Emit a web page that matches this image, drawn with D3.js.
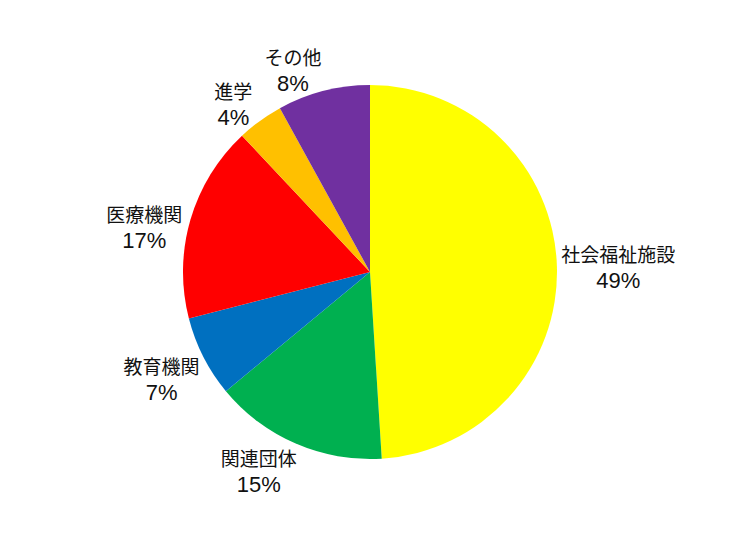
<!DOCTYPE html>
<html>
<head>
<meta charset="UTF-8">
<script src="https://cdn.jsdelivr.net/npm/d3@7/dist/d3.min.js"></script>
<style>
body { margin: 0; background: #fff; }
text { font-family: "Liberation Sans", "Noto Sans CJK JP", sans-serif; fill: #111; }
</style>
</head>
<body>
<script>
var categories = ["社会福祉施設", "関連団体", "教育機関", "医療機関", "進学", "その他"];
var values = [49, 15, 7, 17, 4, 8];
var colors = ["#ffff00", "#00b050", "#0070c0", "#ff0000", "#ffc000", "#7030a0"];

var width = 740, height = 555;
var cx = 370, cy = 272, radius = 187;

// small hand nudges for the label boxes (best-fit placement)
var labelNudge = [[-6, 2], [-18, -3], [1, 7], [0, 16], [-10, 10], [-21, 11]];

var svg = d3.select("body").append("svg")
    .attr("width", width)
    .attr("height", height);

var g = svg.append("g").attr("transform", "translate(" + cx + "," + cy + ")");

var pie = d3.pie().sort(null).value(function(d){ return d; });
var arcs = pie(values);

var arc = d3.arc().innerRadius(0).outerRadius(radius);

g.selectAll("path")
    .data(arcs)
    .enter()
    .append("path")
    .attr("d", arc)
    .attr("fill", function(d, i){ return colors[i]; });

// labels sit just outside the edge, box pushed away from the pie
var labelR = 196;
var lineH = 24;
g.selectAll("g.label")
    .data(arcs)
    .enter()
    .append("g")
    .attr("class", "label")
    .each(function(d, i){
        var a = (d.startAngle + d.endAngle) / 2;
        var halfW = categories[i].length * 19.5 / 2;
        var x = Math.sin(a) * (labelR + halfW) + labelNudge[i][0];
        var y = -Math.cos(a) * (labelR + lineH) + labelNudge[i][1];
        var t = d3.select(this).append("text")
            .attr("text-anchor", "middle");
        t.append("tspan").attr("x", x).attr("y", y - 5)
            .attr("font-size", 19).text(categories[i]);
        t.append("tspan").attr("x", x).attr("y", y + 21)
            .attr("font-size", 22).text(values[i] + "%");
    });
</script>
</body>
</html>
